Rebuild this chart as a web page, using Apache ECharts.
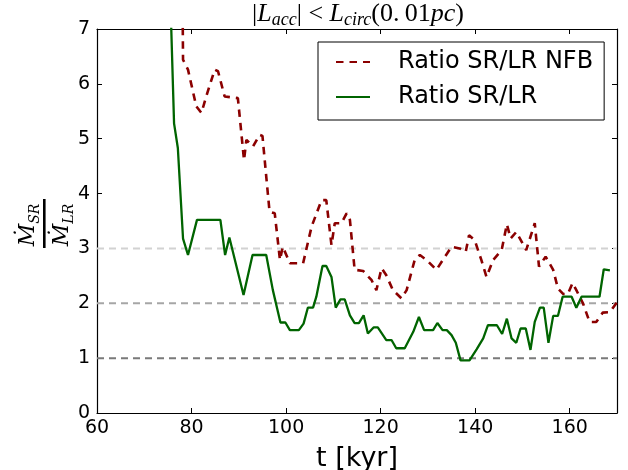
<!DOCTYPE html>
<html><head><meta charset="utf-8">
<script src="https://cdn.jsdelivr.net/npm/echarts@6/dist/echarts.min.js"></script>
<style>html,body{margin:0;padding:0;background:#fff}#c{width:628px;height:470px}</style>
</head><body><div id="c"></div>
<script>
// ---- data ----
const tNFB = [78.0, 78.2, 79.25, 81.0, 82.1, 83.1, 84.9, 85.6, 87.0, 89.8, 91.1, 91.6, 93.0, 94.4, 95.0, 96.5, 97.6, 98.7, 99.3, 100.8, 103.6, 105.4, 107.5, 108.5, 109.6, 110.3, 111.7, 112.8, 113.5, 114.5, 116.3, 118.1, 119.1, 120.2, 121.2, 122.6, 124.4, 125.5, 127.2, 128.3, 129.7, 131.8, 135.0, 136.7, 138.0, 138.7, 139.9, 141.3, 142.4, 143.8, 145.6, 146.7, 147.5, 148.7, 150.8, 152.6, 153.5, 154.9, 156.5, 157.5, 158.6, 159.6, 160.6, 161.4, 162.8, 164.2, 165.6, 167.0, 168.5, 170.0];
const rNFB = [8.5, 6.44, 6.26, 5.59, 5.47, 5.77, 6.26, 6.23, 5.77, 5.74, 4.61, 4.98, 4.86, 5.07, 5.05, 3.67, 3.64, 2.79, 3.03, 2.73, 2.73, 3.40, 3.88, 3.88, 3.06, 3.46, 3.46, 3.64, 3.52, 2.61, 2.59, 2.42, 2.24, 2.64, 2.51, 2.24, 2.09, 2.24, 2.79, 2.88, 2.79, 2.61, 3.03, 3.00, 2.94, 3.24, 3.15, 2.79, 2.48, 2.79, 2.97, 3.44, 3.18, 3.30, 2.97, 3.46, 2.67, 2.85, 2.61, 2.27, 2.17, 2.17, 2.37, 2.24, 2.00, 1.66, 1.66, 1.83, 1.84, 2.02];
const tSR = [75.3, 76.3, 77.1, 78.2, 79.25, 81.15, 86.1, 87.1, 88.0, 91.0, 92.9, 95.8, 97.2, 98.8, 99.85, 100.8, 102.7, 103.7, 104.6, 105.7, 106.4, 107.7, 108.5, 109.6, 110.5, 111.5, 112.4, 113.5, 114.5, 115.4, 116.4, 117.3, 118.5, 119.4, 121.2, 122.3, 123.3, 125.1, 126.9, 128.1, 129.2, 131.1, 132.0, 133.1, 134.0, 135.0, 135.9, 136.9, 138.8, 140.3, 141.7, 142.7, 144.6, 145.7, 146.7, 147.7, 148.7, 149.6, 150.7, 151.7, 152.6, 153.7, 154.5, 155.5, 156.5, 157.5, 158.5, 160.4, 161.4, 162.5, 166.3, 167.2, 168.5];
const rSR = [8.2, 5.28, 4.83, 3.18, 2.88, 3.52, 3.52, 2.88, 3.20, 2.15, 2.88, 2.88, 2.24, 1.65, 1.65, 1.51, 1.51, 1.63, 1.92, 1.92, 2.12, 2.68, 2.68, 2.48, 1.92, 2.07, 2.07, 1.78, 1.64, 1.64, 1.78, 1.45, 1.56, 1.56, 1.33, 1.33, 1.18, 1.18, 1.48, 1.75, 1.51, 1.51, 1.64, 1.51, 1.51, 1.42, 1.28, 0.96, 0.96, 1.16, 1.36, 1.60, 1.60, 1.44, 1.72, 1.36, 1.28, 1.54, 1.54, 1.15, 1.66, 1.92, 1.92, 1.28, 1.77, 1.77, 2.12, 2.12, 1.92, 2.12, 2.12, 2.62, 2.60];
const refLevels = [1, 2, 3];
const seriesNames = ['Ratio SR/LR NFB', 'Ratio SR/LR'];
const xRange = [60, 170], xStep = 20;
const yRange = [0, 7], yStep = 1;

// ---- styles ----
const refColors = ['#7a7a7a', '#a6a6a6', '#d2d2d2'];
const zipPts = (xs, ys) => xs.map((x, i) => [x, ys[i]]);

const chart = echarts.init(document.getElementById('c'), null, {renderer: 'canvas'});
const tickFont = {fontFamily: 'DejaVu Sans', fontSize: 19, color: '#000'};

const refSeries = refLevels.map((lv, i) => ({
  type: 'line', silent: true, symbol: 'none', animation: false,
  data: [[xRange[0], lv], [xRange[1], lv]],
  lineStyle: {color: refColors[i], width: 2, type: [7, 5]}, z: 1
}));

chart.setOption({
  animation: false,
  backgroundColor: '#fff',
  grid: {left: 97, top: 29, right: 11, bottom: 57, show: false, containLabel: false, outerBoundsMode: 'none'},
  xAxis: [
    {type: 'value', min: xRange[0], max: xRange[1], interval: xStep, position: 'bottom',
     axisLine: {show: true, onZero: false, lineStyle: {color: '#000', width: 1.2}},
     axisTick: {show: true, inside: true, length: 5, lineStyle: {color: '#000'}},
     axisLabel: {...tickFont, margin: 6, showMaxLabel: false},
     splitLine: {show: false},
     name: 't [kyr]', nameLocation: 'middle', nameGap: 32,
     nameTextStyle: {fontFamily: 'DejaVu Sans', fontSize: 27, color: '#000'}},
    {type: 'value', min: xRange[0], max: xRange[1], interval: xStep, position: 'top',
     axisLine: {show: true, onZero: false, lineStyle: {color: '#000', width: 1.2}},
     axisTick: {show: true, inside: true, length: 5, lineStyle: {color: '#000'}},
     axisLabel: {show: false}, splitLine: {show: false}}
  ],
  yAxis: [
    {type: 'value', min: yRange[0], max: yRange[1], interval: yStep, position: 'left',
     axisLine: {show: true, onZero: false, lineStyle: {color: '#000', width: 1.2}},
     axisTick: {show: true, inside: true, length: 5, lineStyle: {color: '#000'}},
     axisLabel: {...tickFont, margin: 7}, splitLine: {show: false}},
    {type: 'value', min: yRange[0], max: yRange[1], interval: yStep, position: 'right',
     axisLine: {show: true, onZero: false, lineStyle: {color: '#000', width: 1.2}},
     axisTick: {show: true, inside: true, length: 5, lineStyle: {color: '#000'}},
     axisLabel: {show: false}, splitLine: {show: false}}
  ],
  legend: {
    orient: 'vertical', left: 318, top: 42,
    padding: [7, 11, 10, 17],
    itemWidth: 34, itemHeight: 14, itemGap: 9,
    borderColor: '#000', borderWidth: 1, backgroundColor: '#fff', borderRadius: 0,
    itemStyle: {opacity: 0, borderWidth: 0},
    textStyle: {fontFamily: 'DejaVu Sans', fontSize: 24, color: '#000', lineHeight: 26, padding: [0, 0, 0, 23]},
    data: seriesNames
  },
  series: [
    ...refSeries,
    {name: seriesNames[0], type: 'line', symbol: 'none', showSymbol: false, clip: true,
     data: zipPts(tNFB, rNFB), color: '#8b0000',
     lineStyle: {color: '#8b0000', width: 2.6, type: [7.5, 6]}, z: 3},
    {name: seriesNames[1], type: 'line', symbol: 'none', showSymbol: false, clip: true,
     data: zipPts(tSR, rSR), color: '#006400',
     lineStyle: {color: '#006400', width: 2.3, type: 'solid'}, z: 4}
  ],
  graphic: [
    {type: 'text', x: 358, y: 14, z: 10,
     style: {
       text: '{u||}{i|L}{s|acc}{u|| < }{i|L}{s|circ}{u|(0.\u200901}{i|pc}{u|)}',
       align: 'center', verticalAlign: 'middle',
       rich: {
         u: {fontFamily: 'Liberation Serif', fontSize: 26, lineHeight: 30, verticalAlign: 'middle', fill: '#000'},
         i: {fontFamily: 'Liberation Serif', fontStyle: 'italic', fontSize: 26, lineHeight: 30, verticalAlign: 'middle', fill: '#000'},
         s: {fontFamily: 'Liberation Serif', fontStyle: 'italic', fontSize: 18, lineHeight: 16, verticalAlign: 'bottom', fill: '#000'}
       }
     }},
    {type: 'text', x: 28, y: 225, rotation: Math.PI / 2, z: 10,
     style: {
       text: '{m|\u1E40}{s|SR}', align: 'center', verticalAlign: 'middle',
       rich: {
         m: {fontFamily: 'DejaVu Serif', fontStyle: 'italic', fontSize: 22, lineHeight: 28, verticalAlign: 'middle', fill: '#000'},
         s: {fontFamily: 'DejaVu Serif', fontStyle: 'italic', fontSize: 14, lineHeight: 14, verticalAlign: 'bottom', fill: '#000'}
       }
     }},
    {type: 'rect', shape: {x: 43, y: 199, width: 2.6, height: 49}, style: {fill: '#000'}, z: 10},
    {type: 'text', x: 62, y: 225, rotation: Math.PI / 2, z: 10,
     style: {
       text: '{m|\u1E40}{s|LR}', align: 'center', verticalAlign: 'middle',
       rich: {
         m: {fontFamily: 'DejaVu Serif', fontStyle: 'italic', fontSize: 22, lineHeight: 28, verticalAlign: 'middle', fill: '#000'},
         s: {fontFamily: 'DejaVu Serif', fontStyle: 'italic', fontSize: 14, lineHeight: 14, verticalAlign: 'bottom', fill: '#000'}
       }
     }}
  ]
});
</script>
</body></html>
